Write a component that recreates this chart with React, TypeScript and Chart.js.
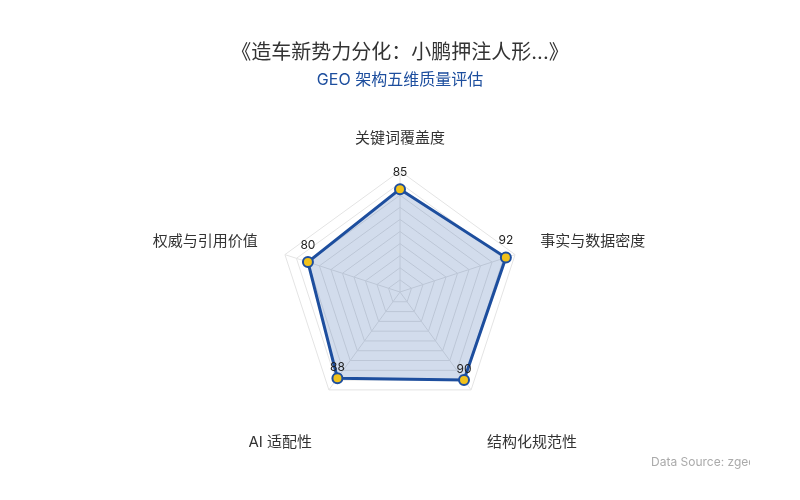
import { Chart, registerables } from 'chart.js';
import { useRef, useEffect } from 'react';

Chart.register(...registerables);

const dimensions = ['关键词覆盖度', '事实与数据密度', '结构化规范性', 'AI 适配性', '权威与引用价值'];
const scores = [85, 92, 90, 88, 80];

const titleText = '《造车新势力分化：小鹏押注人形...》';
const subtitleText = 'GEO 架构五维质量评估';
const sourceText = 'Data Source: zgeo.com';

const FONT = "Inter, 'Noto Sans CJK SC', sans-serif";
const BLUE = '#1d4e9e';

// dimension names, value labels and the source note
const overlayPlugin = {
	id: 'overlay',
	afterDatasetsDraw(chart) {
		const { ctx } = chart;
		const scale = chart.scales.r;
		const R = scale.drawingArea;

		ctx.save();
		ctx.font = `15px ${FONT}`;
		ctx.fillStyle = '#333';
		dimensions.forEach((name, i) => {
			const p = scale.getPointPosition(i, R + 15);
			const cos = Math.cos(p.angle);
			const sin = Math.sin(p.angle);
			let x = p.x;
			let y = p.y;
			ctx.textAlign = Math.abs(cos) < 0.01 ? 'center' : cos > 0 ? 'left' : 'right';
			if (sin < -0.9) {
				ctx.textBaseline = 'bottom';
				y -= 10;
			} else if (sin > 0.5) {
				ctx.textBaseline = 'middle';
				y += 40;
				x += cos > 0 ? 7 : -8;
			} else {
				ctx.textBaseline = 'bottom';
				x += cos > 0 ? 11 : -13;
				y -= 1;
			}
			ctx.fillText(name, x, y);
		});

		ctx.font = `12px ${FONT}`;
		ctx.fillStyle = '#222';
		ctx.textAlign = 'center';
		ctx.textBaseline = 'middle';
		const meta = chart.getDatasetMeta(0);
		meta.data.forEach((pt, i) => {
			const below = pt.y > scale.yCenter;
			ctx.fillText(String(scores[i]), pt.x, pt.y - (below ? 11 : 17));
		});

		ctx.beginPath();
		ctx.rect(0, 0, 750, chart.height);
		ctx.clip();
		ctx.font = `12px ${FONT}`;
		ctx.fillStyle = '#aaa';
		ctx.textAlign = 'left';
		ctx.fillText(sourceText, 651, 462);
		ctx.restore();
	},
};

export default function App() {
	const chartRef = useRef(null);

	useEffect(() => {
		const ctx = chartRef.current.getContext('2d');

		const chartInstance = new Chart(ctx, {
			type: 'radar',
			data: {
				labels: dimensions,
				datasets: [
					{
						data: scores,
						borderColor: BLUE,
						borderWidth: 3,
						backgroundColor: 'rgba(29, 78, 158, 0.2)',
						fill: true,
						pointRadius: 5,
						pointBorderWidth: 2,
						pointBackgroundColor: '#f2c21b',
						pointBorderColor: BLUE,
					},
				],
			},
			options: {
				animation: false,
				responsive: true,
				maintainAspectRatio: false,
				layout: { padding: { top: 0, bottom: 86, left: 0, right: 0 } },
				plugins: {
					legend: { display: false },
					tooltip: { enabled: false },
					title: {
						display: true,
						text: titleText,
						color: '#333',
						font: { size: 20, weight: 'normal', family: FONT },
						padding: { top: 41, bottom: 6 },
					},
					subtitle: {
						display: true,
						text: subtitleText,
						color: BLUE,
						font: { size: 16, family: FONT },
						padding: { top: 0, bottom: 81 },
					},
				},
				scales: {
					r: {
						min: 0,
						max: 100,
						ticks: { display: false, stepSize: 10 },
						grid: { color: '#e4e4e4' },
						angleLines: { color: '#e4e4e4' },
						pointLabels: { display: false },
					},
				},
			},
			plugins: [overlayPlugin],
		});

		return () => {
			chartInstance.destroy();
		};
	}, []);

	return (
		<div style={{ position: 'fixed', left: 0, top: 0, width: 800, height: 500, background: '#fff' }}>
			<canvas ref={chartRef} />
		</div>
	);
}
